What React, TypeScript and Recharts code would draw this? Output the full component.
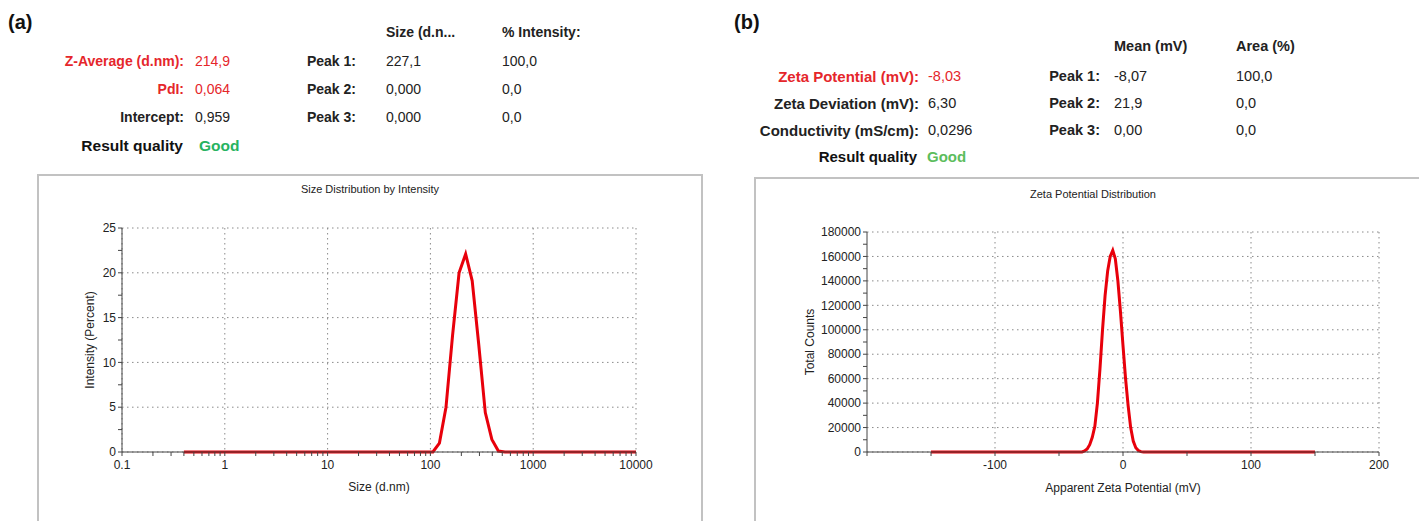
import React from 'react';
import { LineChart, Line, XAxis, YAxis, CartesianGrid } from 'recharts';

// ---------- Data ----------
const sizeNm = [0.4, 91.2, 105.7, 122.4, 141.8, 164.2, 190.1, 220.2, 255.0, 295.3, 342.0, 396.1, 458.7, 531.2, 10000];
const intensityPct = [0, 0, 0, 1.0, 5.0, 13.0, 20.0, 22.1, 19.1, 12.0, 4.4, 1.4, 0.1, 0, 0];

const sizeTicksMajor = [0.1, 1, 10, 100, 1000, 10000];
const sizeTicksMinor = [0.2, 0.3, 0.4, 0.5, 0.6, 0.7, 0.8, 0.9, 2, 3, 4, 5, 6, 7, 8, 9, 20, 30, 40, 50, 60, 70, 80, 90, 200, 300, 400, 500, 600, 700, 800, 900, 2000, 3000, 4000, 5000, 6000, 7000, 8000, 9000];
const intensityTicksMajor = [0, 5, 10, 15, 20, 25];
const intensityTicksMinor = [2.5, 7.5, 12.5, 17.5, 22.5];

const zetaMv = [-150, -32, -30, -28, -26, -24, -22, -20, -18, -16, -14, -12, -10, -8, -6, -4, -2, 0, 2, 4, 6, 8, 10, 12, 14, 16, 150];
const zetaCounts = [0, 0, 800, 2500, 6000, 12000, 21000, 40000, 68000, 100000, 128000, 148000, 160000, 165000, 158000, 140000, 115000, 87000, 60000, 38000, 20000, 9000, 3500, 1200, 300, 0, 0];

const zetaTicksMajor = [-100, 0, 100, 200];
const zetaTicksAll = [-200, -150, -100, -50, 0, 50, 100, 150, 200];
const countTicksMajor = [0, 20000, 40000, 60000, 80000, 100000, 120000, 140000, 160000, 180000];
const countTicksAll = [0, 10000, 20000, 30000, 40000, 50000, 60000, 70000, 80000, 90000, 100000, 110000, 120000, 130000, 140000, 150000, 160000, 170000, 180000];

const leftRows = [
  { label: 'Z-Average (d.nm):', value: '214,9', red: true, peak: 'Peak 1:', size: '227,1', pct: '100,0' },
  { label: 'PdI:', value: '0,064', red: true, peak: 'Peak 2:', size: '0,000', pct: '0,0' },
  { label: 'Intercept:', value: '0,959', red: false, peak: 'Peak 3:', size: '0,000', pct: '0,0' },
];
const rightRows = [
  { label: 'Zeta Potential (mV):', value: '-8,03', red: true, peak: 'Peak 1:', mean: '-8,07', area: '100,0' },
  { label: 'Zeta Deviation (mV):', value: '6,30', red: false, peak: 'Peak 2:', mean: '21,9', area: '0,0' },
  { label: 'Conductivity (mS/cm):', value: '0,0296', red: false, peak: 'Peak 3:', mean: '0,00', area: '0,0' },
];

const sizeData = sizeNm.map((s, i) => ({ size: s, intensity: intensityPct[i] }));
const zetaData = zetaMv.map((z, i) => ({ zeta: z, counts: zetaCounts[i] }));

// ---------- Styles ----------
const FONT = '"Liberation Sans", Arial, Helvetica, sans-serif';
const RED = '#e5262b';
const LINE_RED = '#e8000b';
const AXIS = '#444';
const GRID = '#8a8a8a';

type TProps = { x: number; y: number; text: string; size?: number; bold?: boolean; color?: string; align?: 'left' | 'right' | 'center' };
const T = ({ x, y, text, size = 14, bold = false, color = '#222', align = 'left' }: TProps) => {
  const style: React.CSSProperties = {
    position: 'absolute',
    top: y - size * 0.6,
    fontSize: size,
    lineHeight: `${size * 1.2}px`,
    fontWeight: bold ? 700 : 400,
    color,
    whiteSpace: 'nowrap',
    fontFamily: FONT,
  };
  if (align === 'left') style.left = x;
  else if (align === 'right') style.right = 1419 - x;
  else { style.left = x; style.transform = 'translateX(-50%)'; }
  return <div style={style}>{text}</div>;
};

const tickStyle = { fontSize: 12, fill: '#222', fontFamily: FONT };

export default function App() {
  const majorSize = new Set(sizeTicksMajor);
  const majorInt = new Set(intensityTicksMajor);
  const majorZeta = new Set(zetaTicksMajor);
  const majorCount = new Set(countTicksMajor);
  return (
    <div style={{ position: 'absolute', left: 0, top: 0, width: 1419, height: 521, overflow: 'hidden', background: '#fff', fontFamily: FONT }}>
      {/* ---------- Left header ---------- */}
      <T x={8} y={22} text="(a)" size={20} bold color="#111" />
      <T x={386} y={32} text="Size (d.n..." bold />
      <T x={502} y={32} text="% Intensity:" bold />
      {leftRows.map((r, i) => {
        const y = 61 + i * 28;
        return (
          <React.Fragment key={r.label}>
            <T x={184} y={y} text={r.label} bold align="right" color={r.red ? RED : '#222'} />
            <T x={195} y={y} text={r.value} color={r.red ? RED : '#222'} />
            <T x={356} y={y} text={r.peak} bold align="right" />
            <T x={386} y={y} text={r.size} />
            <T x={502} y={y} text={r.pct} />
          </React.Fragment>
        );
      })}
      <T x={183} y={146} text="Result quality" size={15.5} bold align="right" color="#111" />
      <T x={199} y={146} text="Good" size={15.5} bold color="#27b35f" />

      {/* ---------- Right header ---------- */}
      <T x={734} y={22} text="(b)" size={20} bold color="#111" />
      <T x={1114} y={47} text="Mean (mV)" size={14.5} bold />
      <T x={1236} y={47} text="Area (%)" size={14.5} bold />
      {rightRows.map((r, i) => {
        const y = 77 + i * 27;
        return (
          <React.Fragment key={r.label}>
            <T x={919} y={y} text={r.label} size={15} bold align="right" color={r.red ? RED : '#222'} />
            <T x={928} y={y} text={r.value} size={14.5} color={r.red ? RED : '#222'} />
            <T x={1100} y={y} text={r.peak} size={14.5} bold align="right" />
            <T x={1114} y={y} text={r.mean} size={14.5} />
            <T x={1236} y={y} text={r.area} size={14.5} />
          </React.Fragment>
        );
      })}
      <T x={917} y={157} text="Result quality" size={15} bold align="right" color="#111" />
      <T x={927} y={157} text="Good" size={15} bold color="#5cbd5c" />

      {/* ---------- Left chart box ---------- */}
      <div style={{ position: 'absolute', left: 37, top: 174, width: 662, height: 400, border: '2px solid #c2c2c2' }} />
      <T x={370} y={190} text="Size Distribution by Intensity" size={11} align="center" color="#222" />
      <div style={{ position: 'absolute', left: 37, top: 174 }}>
        <LineChart width={664} height={340} data={sizeData} margin={{ top: 54, right: 65, bottom: 20, left: 45 }}>
          <CartesianGrid stroke={GRID} strokeDasharray="1.5 3.5" verticalValues={sizeTicksMajor} horizontalValues={intensityTicksMajor} />
          <XAxis
            dataKey="size"
            type="number"
            scale="log"
            domain={[0.1, 10000]}
            allowDataOverflow
            ticks={[...sizeTicksMajor, ...sizeTicksMinor]}
            interval={0}
            tickFormatter={(v: number) => (majorSize.has(v) ? String(v) : '')}
            tick={tickStyle}
            tickSize={4}
            tickMargin={4}
            stroke={AXIS}
            height={42}
            label={{ value: 'Size (d.nm)', position: 'insideBottom', offset: 3, style: { fontSize: 12, fill: '#222', fontFamily: FONT } }}
          />
          <YAxis
            type="number"
            domain={[0, 25]}
            ticks={[...intensityTicksMajor, ...intensityTicksMinor].sort((a, b) => a - b)}
            interval={0}
            tickFormatter={(v: number) => (majorInt.has(v) ? String(v) : '')}
            tick={tickStyle}
            tickSize={4}
            stroke={AXIS}
            width={40}
            label={{ value: 'Intensity (Percent)', angle: -90, position: 'insideLeft', offset: 8, style: { textAnchor: 'middle', fontSize: 12, fill: '#222', fontFamily: FONT } }}
          />
          <Line type="linear" dataKey="intensity" stroke={LINE_RED} strokeWidth={3} dot={false} isAnimationActive={false} />
        </LineChart>
      </div>

      {/* ---------- Right chart box ---------- */}
      <div style={{ position: 'absolute', left: 754, top: 177, width: 700, height: 400, border: '2px solid #c2c2c2' }} />
      <T x={1093} y={195} text="Zeta Potential Distribution" size={11} align="center" color="#222" />
      <div style={{ position: 'absolute', left: 754, top: 177 }}>
        <LineChart width={665} height={340} data={zetaData} margin={{ top: 55, right: 40, bottom: 23, left: 53 }}>
          <CartesianGrid stroke={GRID} strokeDasharray="1.5 3.5" verticalValues={zetaTicksMajor} horizontalValues={countTicksMajor} />
          <XAxis
            dataKey="zeta"
            type="number"
            domain={[-200, 200]}
            ticks={zetaTicksAll}
            interval={0}
            tickFormatter={(v: number) => (majorZeta.has(v) ? String(v) : '')}
            tick={tickStyle}
            tickSize={4}
            tickMargin={4}
            stroke={AXIS}
            height={42}
            label={{ value: 'Apparent Zeta Potential (mV)', position: 'insideBottom', offset: 2, style: { fontSize: 12, fill: '#222', fontFamily: FONT } }}
          />
          <YAxis
            type="number"
            domain={[0, 180000]}
            ticks={countTicksAll}
            interval={0}
            tickFormatter={(v: number) => (majorCount.has(v) ? String(v) : '')}
            tick={tickStyle}
            tickSize={4}
            stroke={AXIS}
            width={60}
            label={{ value: 'Total Counts', angle: -90, position: 'insideLeft', offset: 3, style: { textAnchor: 'middle', fontSize: 12, fill: '#222', fontFamily: FONT } }}
          />
          <Line type="linear" dataKey="counts" stroke={LINE_RED} strokeWidth={3} dot={false} isAnimationActive={false} />
        </LineChart>
      </div>
    </div>
  );
}
